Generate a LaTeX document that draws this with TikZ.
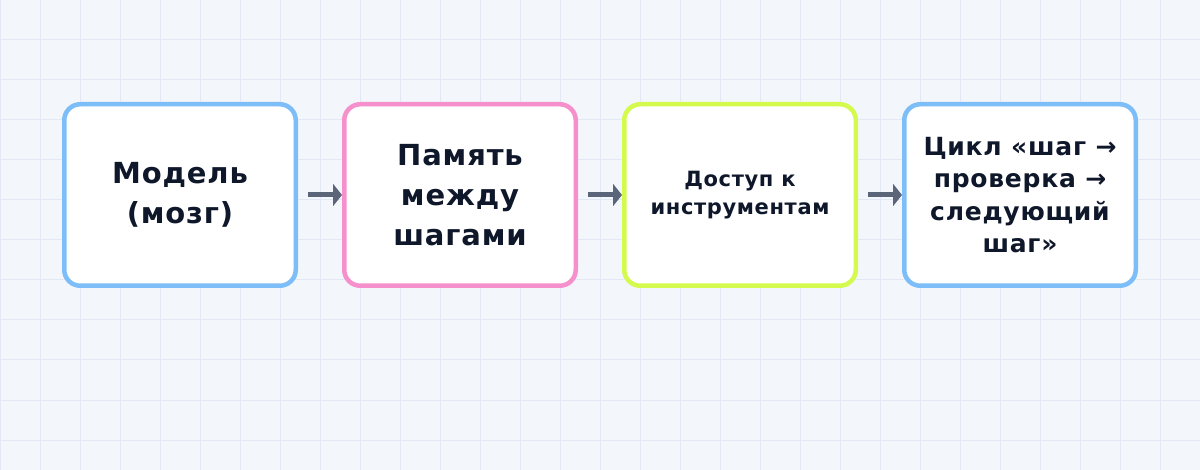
\documentclass[tikz,border=0pt]{standalone}
\usepackage{fontspec}
\setmainfont{DejaVu Sans}[LetterSpace=3]
\usetikzlibrary{arrows.meta}
\definecolor{bgc}{HTML}{F3F7FB}
\definecolor{gridc}{HTML}{E3E9F4}
\definecolor{bblue}{HTML}{7DBDF8}
\definecolor{bpink}{HTML}{F690CC}
\definecolor{blime}{HTML}{D4FA4E}
\definecolor{txt}{HTML}{0F172A}
\definecolor{arrc}{HTML}{5B6579}
\tikzset{
  box/.style={draw, line width=4.5pt, fill=white, rounded corners=16pt,
    minimum width=231.5pt, minimum height=181.5pt, align=center, text=txt,
    inner sep=0pt, font=\bfseries},
  conn/.style={draw=arrc, line width=5pt, -{Triangle[length=9pt,width=22pt]}}
}
\begin{document}
\begin{tikzpicture}[x=1pt,y=-1pt]
\fill[bgc] (0,0) rectangle (1200,470);
\useasboundingbox (0,0) rectangle (1200,470);
\foreach \i in {0,40,...,1200} \draw[gridc, line width=1pt] (\i,0) -- (\i,470);
\foreach \j in {0,40,...,440} \draw[gridc, line width=1pt] (0,\j) -- (1200,\j);
\node[box, draw=bblue, font=\bfseries\fontsize{29}{40}\selectfont] (b1) at (180,195) {Модель\\(мозг)};
\node[box, draw=bpink, font=\bfseries\fontsize{29}{40}\selectfont] (b2) at (460,195) {Память\\между\\шагами};
\node[box, draw=blime, font=\bfseries\fontsize{21}{28}\selectfont] (b3) at (740,195) {Доступ к\\инструментам};
\node[box, draw=bblue, font=\bfseries\fontsize{25}{32.5}\selectfont] (b4) at (1020,195) {Цикл «шаг →\\проверка →\\следующий\\шаг»};
\draw[conn] ([xshift=10pt]b1.east) -- (b2.west);
\draw[conn] ([xshift=10pt]b2.east) -- (b3.west);
\draw[conn] ([xshift=10pt]b3.east) -- (b4.west);
\end{tikzpicture}
\end{document}
